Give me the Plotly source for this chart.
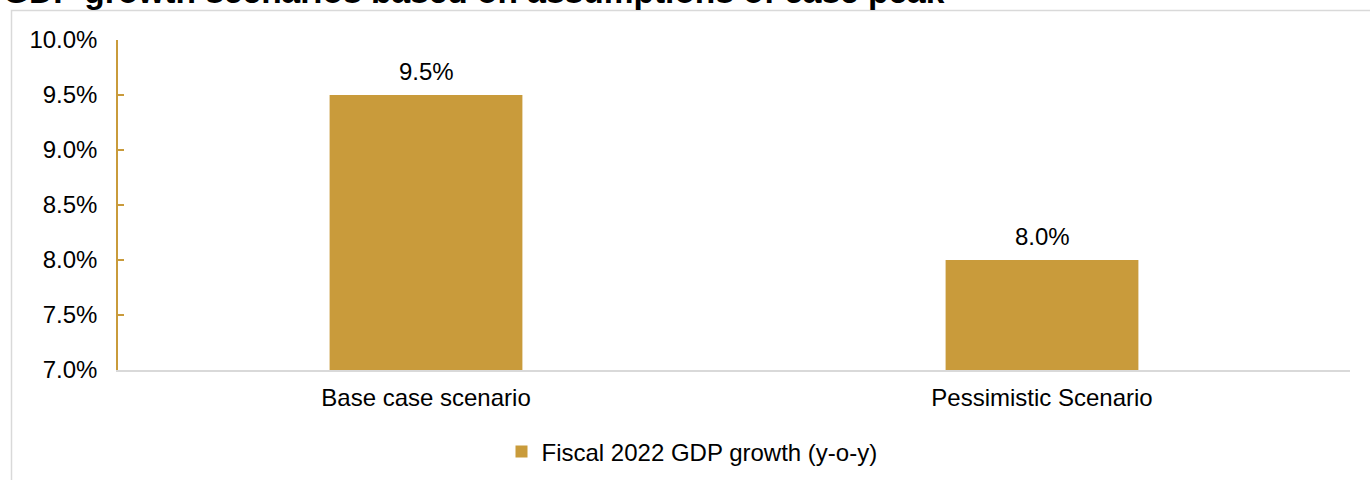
import plotly.graph_objects as go

categories = ["Base case scenario", "Pessimistic Scenario"]
values = [9.5, 8.0]
series_name = "Fiscal 2022 GDP growth (y-o-y)"
title_text = "GDP growth scenarios based on assumptions of case peak"
y_ticks = [7.0, 7.5, 8.0, 8.5, 9.0, 9.5, 10.0]

GOLD = "#C99B3B"
FONT = "Liberation Sans, Arial, sans-serif"
FS = 24

W, H = 1370, 480
ML, MR, MT, MB = 118, 20, 40, 110
PW, PH = W - ML - MR, H - MT - MB

def px_x(x):
    return (x - ML) / PW

def px_y(y):
    return (H - MB - y) / PH

fig = go.Figure()
fig.add_trace(go.Bar(
    x=categories, y=values, name=series_name,
    marker=dict(color=GOLD, line=dict(width=0)),
    showlegend=True,
))

for c, v in zip(categories, values):
    fig.add_annotation(x=c, y=v, xref="x", yref="y", text=f"{v:.1f}%",
                       showarrow=False, yanchor="bottom", yshift=8,
                       font=dict(family=FONT, size=FS, color="#000000"))

fig.add_annotation(x=px_x(1), y=px_y(-9), xref="paper", yref="paper",
                   text=f"<b>{title_text}</b>", showarrow=False,
                   xanchor="left", yanchor="middle",
                   font=dict(family=FONT, size=33.5, color="#000000"))

# outer border of chart area
fig.add_shape(type="rect", xref="paper", yref="paper",
              x0=px_x(11.5), x1=px_x(1400), y0=px_y(600), y1=px_y(10.5),
              line=dict(color="#D9D9D9", width=1.5), fillcolor="rgba(0,0,0,0)",
              layer="below")

fig.update_layout(
    width=W, height=H,
    margin=dict(l=ML, r=MR, t=MT, b=MB, pad=0, autoexpand=False),
    paper_bgcolor="white", plot_bgcolor="white",
    bargap=0.687,
    font=dict(family=FONT, size=FS, color="#000000"),
    legend=dict(orientation="h", x=px_x(692), y=px_y(452), xanchor="center",
                yanchor="middle", font=dict(family=FONT, size=FS, color="#000000"),
                bgcolor="rgba(0,0,0,0)"),
    xaxis=dict(showline=True, linecolor="#D9D9D9", linewidth=1.5,
               ticks="", showgrid=False, tickfont=dict(size=FS),
               ticklabelstandoff=5, automargin=False),
    yaxis=dict(range=[7.0, 10.0], tickvals=y_ticks,
               ticktext=[f"{t:.1f}%" for t in y_ticks],
               showline=True, linecolor=GOLD, linewidth=1.5,
               ticks="inside", ticklen=6, tickcolor=GOLD, tickwidth=1.5,
               showgrid=False, zeroline=False, tickfont=dict(size=FS),
               ticklabelstandoff=14, automargin=False),
)

fig.write_html("out.html")
